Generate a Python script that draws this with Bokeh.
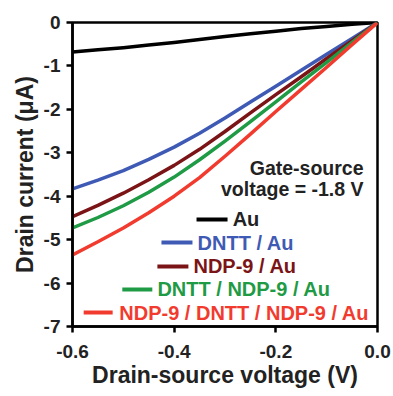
from bokeh.plotting import figure
from bokeh.models import Range1d, FixedTicker, NumeralTickFormatter
from bokeh.core.properties import value
from bokeh.embed import file_html
from bokeh.resources import INLINE

# ---- data ----
voltage = [-0.6, -0.55, -0.5, -0.45, -0.4, -0.35, -0.3, -0.25, -0.2, -0.15, -0.1, -0.05, 0.0]
au = [-0.68, -0.63, -0.58, -0.52, -0.46, -0.39, -0.32, -0.26, -0.20, -0.14, -0.09, -0.04, 0.0]
dntt_au = [-3.83, -3.63, -3.41, -3.15, -2.87, -2.55, -2.20, -1.83, -1.47, -1.10, -0.73, -0.37, 0.0]
ndp9_au = [-4.47, -4.21, -3.93, -3.62, -3.29, -2.92, -2.51, -2.08, -1.66, -1.25, -0.83, -0.42, 0.0]
dntt_ndp9_au = [-4.73, -4.49, -4.22, -3.91, -3.56, -3.16, -2.73, -2.28, -1.83, -1.37, -0.92, -0.46, 0.0]
ndp9_dntt_ndp9_au = [-5.35, -5.05, -4.73, -4.38, -4.00, -3.57, -3.08, -2.57, -2.05, -1.54, -1.03, -0.51, 0.0]

series_names = ["Au", "DNTT / Au", "NDP-9 / Au", "DNTT / NDP-9 / Au", "NDP-9 / DNTT / NDP-9 / Au"]
series_values = [au, dntt_au, ndp9_au, dntt_ndp9_au, ndp9_dntt_ndp9_au]
series_colors = ["#000000", "#3f5ab4", "#7b1416", "#1f9a45", "#f23b2f"]
text_colors = ["#222222", "#3f5ab4", "#7b1416", "#1f9a45", "#f23b2f"]

x_ticks = [-0.6, -0.4, -0.2, 0.0]
y_ticks = [-7, -6, -5, -4, -3, -2, -1, 0]
x_label = "Drain-source voltage (V)"
y_label = "Drain current (\u03bcA)"
note_lines = ["Gate-source", "voltage = -1.8 V"]

# legend layout (data coordinates of sample line start/end, text start, row y)
leg_x0 = [-0.356, -0.425, -0.433, -0.502, -0.578]
leg_x1 = [-0.295, -0.364, -0.372, -0.443, -0.521]
leg_tx = [-0.285, -0.354, -0.362, -0.433, -0.508]
leg_y = [-4.536, -5.066, -5.618, -6.148, -6.678]

FONT = "Liberation Sans"

p = figure(width=393, height=396, output_backend="svg", toolbar_location=None,
           x_range=Range1d(-0.6, 0.0), y_range=Range1d(-7, 0),
           min_border_left=72, min_border_right=16, min_border_top=22, min_border_bottom=70)

p.grid.visible = False
p.background_fill_color = "white"
p.border_fill_color = "white"
p.outline_line_color = "black"
p.outline_line_width = 2.5

for ax in (p.xaxis, p.yaxis):
    ax.axis_line_width = 2.5
    ax.axis_line_color = "black"
    ax.major_tick_line_width = 2.5
    ax.major_tick_line_color = "black"
    ax.major_tick_out = 6
    ax.major_tick_in = 0
    ax.minor_tick_line_color = None
    ax.major_label_text_font = FONT
    ax.major_label_text_font_style = "bold"
    ax.major_label_text_font_size = "19px"
    ax.major_label_text_color = "#222222"
    ax.axis_label_text_font = FONT
    ax.axis_label_text_font_style = "bold"
    ax.axis_label_text_font_size = "23px"
    ax.axis_label_text_color = "#222222"

p.xaxis.ticker = FixedTicker(ticks=x_ticks)
p.yaxis.ticker = FixedTicker(ticks=y_ticks)
p.xaxis.formatter = NumeralTickFormatter(format="0.0")
p.yaxis.formatter = NumeralTickFormatter(format="0")
p.xaxis.axis_label = x_label
p.yaxis.axis_label = y_label
p.xaxis.major_label_standoff = 12
p.yaxis.major_label_standoff = 6
p.xaxis.axis_label_standoff = 1
p.yaxis.axis_label_standoff = 3

for vals, col in zip(series_values, series_colors):
    p.line(voltage, vals, line_color=col, line_width=3.5, line_join="round")

# annotation
p.text(x=[-0.0275, -0.0275], y=[-3.34, -3.845], text=note_lines,
       text_align="right", text_baseline="middle", text_font=value(FONT),
       text_font_style="bold", text_font_size="19.5px", text_color="#222222")

# legend
p.segment(x0=leg_x0, y0=leg_y, x1=leg_x1, y1=leg_y, line_color=series_colors, line_width=4)
p.text(x=leg_tx, y=leg_y, text=series_names, text_color=text_colors,
       text_align="left", text_baseline="middle", text_font=value(FONT),
       text_font_style="bold", text_font_size="20px")

open("out.html", "w").write(file_html(p, INLINE))
